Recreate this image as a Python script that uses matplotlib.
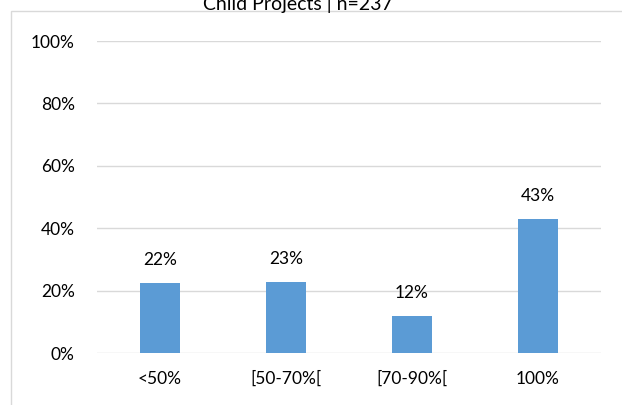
import matplotlib
matplotlib.use("Agg")
import matplotlib.pyplot as plt
from matplotlib.patches import Rectangle

categories = ["<50%", "[50-70%[", "[70-90%[", "100%"]
values = [22.4, 22.8, 11.8, 43.0]
labels = ["22%", "23%", "12%", "43%"]
yticks = [0, 20, 40, 60, 80, 100]
title = "Child Projects | n=237"

plt.rcParams['font.family'] = ['Lato', 'DejaVu Sans']

W, H = 622, 405
fig = plt.figure(figsize=(W/100, H/100), dpi=100)
ax = fig.add_axes([97/W, 1-353/H, (601-97)/W, (353-41)/H])

x = range(len(categories))
ax.bar(x, values, width=0.31, color="#5b9bd5", zorder=3)
for xi, v, lab in zip(x, values, labels):
    ax.annotate(lab, (xi, v), xytext=(0, 11), textcoords="offset points",
                ha="center", va="bottom", fontsize=12.5, color="#000000")

ax.set_xlim(-0.5, len(categories)-0.5)
ax.set_ylim(0, 100)
ax.set_yticks(yticks)
ax.set_yticklabels([f"{t}%" for t in yticks], fontsize=12.5)
ax.set_xticks(list(x))
ax.set_xticklabels(categories, fontsize=12.5)
ax.tick_params(length=0, pad=16, axis='y')
ax.tick_params(length=0, pad=13, axis='x')
ax.grid(axis='y', color="#d9d9d9", linewidth=1, zorder=0)
for s in ax.spines.values():
    s.set_visible(False)

# outer chart border
fig.patches.append(Rectangle((11/W, -0.1), 1.2, (H-11)/H + 0.1, transform=fig.transFigure,
                             fill=False, edgecolor="#d9d9d9", linewidth=1))
fig.text(298/W, 1-4/H, title, ha="center", va="center", fontsize=14)

fig.savefig("out.png", dpi=100)
